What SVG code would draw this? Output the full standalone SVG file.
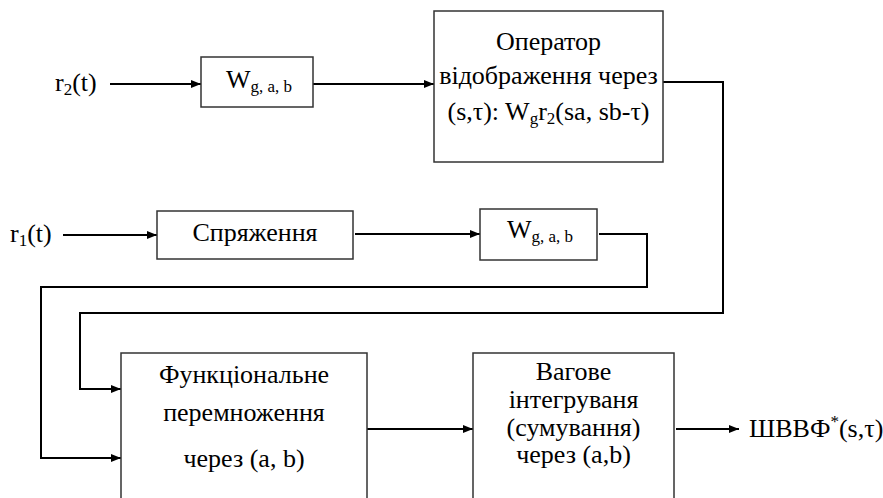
<svg xmlns="http://www.w3.org/2000/svg" width="883" height="498" viewBox="0 0 883 498">
<defs>
<marker id="ah" viewBox="0 0 10 8" refX="10" refY="4" markerWidth="10" markerHeight="8" markerUnits="userSpaceOnUse" orient="auto">
<path d="M0,0 L10,4 L0,8 Z" fill="#000"/>
</marker>
</defs>
<rect width="883" height="498" fill="#fff"/>
<g id="connectors" fill="none" stroke="#000" stroke-width="2">
<line marker-end="url(#ah)" x1="110" y1="84" x2="201" y2="84"/>
<line marker-end="url(#ah)" x1="313" y1="84" x2="434" y2="84"/>
<polyline points="663,82 723,82 723,313 80,313 80,389 111,389"/>
<line marker-end="url(#ah)" x1="80" y1="389" x2="121" y2="389"/>
<line marker-end="url(#ah)" x1="63" y1="235" x2="157" y2="235"/>
<line marker-end="url(#ah)" x1="355" y1="234" x2="480" y2="234"/>
<polyline points="599,234 647,234 647,287 41,287 41,458 111,458"/>
<line marker-end="url(#ah)" x1="41" y1="458" x2="121" y2="458"/>
<line marker-end="url(#ah)" x1="367" y1="429" x2="473" y2="429"/>
<line marker-end="url(#ah)" x1="676" y1="429" x2="739" y2="429"/>
</g>
<g fill="#fff" stroke="#333" stroke-width="1.5">
<rect id="w1-box" x="201" y="57" width="112" height="50"/>
<rect id="operator-box" x="434" y="11" width="229" height="151"/>
<rect id="conj-box" x="157" y="211" width="196" height="48"/>
<rect id="w2-box" x="480" y="209" width="117" height="51"/>
<rect id="mult-box" x="121" y="353" width="246" height="150"/>
<rect id="integr-box" x="473" y="353" width="201" height="150"/>
</g>
<text id="in-r2" x="55" y="91" font-family="Liberation Serif" font-size="26">r<tspan font-size="17" dy="4">2</tspan><tspan dy="-4">(t)</tspan></text>
<text id="w1" x="226" y="88" font-family="Liberation Serif" font-size="26">W<tspan font-size="17" dy="4">g, a, b</tspan></text>
<g id="operator" text-anchor="middle">
<text x="548.5" y="50" font-family="Liberation Serif" font-size="26">Оператор</text>
<text x="548.5" y="84" font-family="Liberation Serif" font-size="26">відображення через</text>
<text x="548.5" y="120" font-family="Liberation Serif" font-size="26">(s,τ): W<tspan font-size="17" dy="4">g</tspan><tspan dy="-4">r</tspan><tspan font-size="17" dy="4">2</tspan><tspan dy="-4">(sa, sb-τ)</tspan></text>
</g>
<text id="in-r1" x="10" y="242" font-family="Liberation Serif" font-size="26">r<tspan font-size="17" dy="4">1</tspan><tspan dy="-4">(t)</tspan></text>
<text id="conj" x="255" y="241" text-anchor="middle" font-family="Liberation Serif" font-size="26">Спряження</text>
<text id="w2" x="507" y="238" font-family="Liberation Serif" font-size="26">W<tspan font-size="17" dy="4">g, a, b</tspan></text>
<g id="mult" text-anchor="middle">
<text x="244" y="383" font-family="Liberation Serif" font-size="26">Функціональне</text>
<text x="244" y="421" font-family="Liberation Serif" font-size="26">перемноження</text>
<text x="244" y="467" font-family="Liberation Serif" font-size="26">через (a, b)</text>
</g>
<g id="integr" text-anchor="middle">
<text x="573.5" y="380" font-family="Liberation Serif" font-size="26">Вагове</text>
<text x="573.5" y="408" font-family="Liberation Serif" font-size="26">інтегруваня</text>
<text x="573.5" y="436" font-family="Liberation Serif" font-size="26">(сумування)</text>
<text x="573.5" y="463" font-family="Liberation Serif" font-size="26">через (a,b)</text>
</g>
<text id="out" x="749" y="437" font-family="Liberation Serif" font-size="26">ШВВФ<tspan font-size="17" dy="-10">*</tspan><tspan dy="10">(s,τ)</tspan></text>
</svg>
